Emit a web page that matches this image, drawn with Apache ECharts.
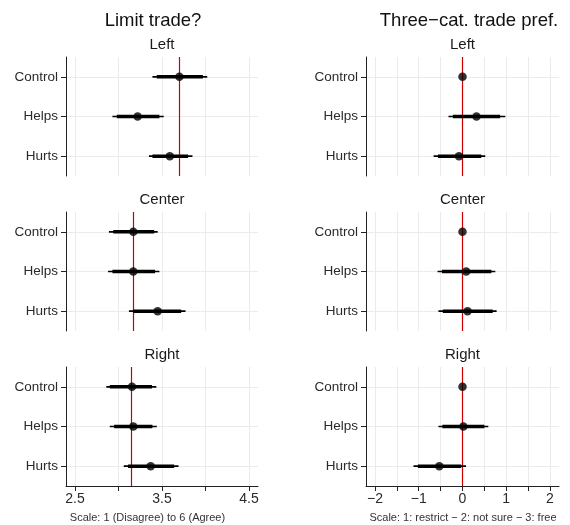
<!DOCTYPE html>
<html>
<head>
<meta charset="utf-8">
<script src="https://cdn.jsdelivr.net/npm/echarts@6/dist/echarts.min.js"></script>
<style>html,body{margin:0;padding:0;background:#fff}#c{width:570px;height:525px}</style>
</head>
<body>
<div id="c"></div>
<script>
// ---- data ----
const categories = ['Control', 'Helps', 'Hurts'];
const panelNames = ['Left', 'Center', 'Right'];
const columnTitles = ['Limit trade?', 'Three\u2212cat. trade pref.'];
const axisTitles = ['Scale: 1 (Disagree) to 6 (Agree)', 'Scale: 1: restrict \u2212 2: not sure \u2212 3: free'];

const limitTicks = [2.5, 3, 3.5, 4, 4.5];
const limitLabels = [2.5, 3.5, 4.5];
const prefTicks = [-2, -1.5, -1, -0.5, 0, 0.5, 1, 1.5, 2];
const prefLabels = [-2, -1, 0, 1, 2];

// rows: [estimate, lo95, hi95, lo90, hi90] for Control, Helps, Hurts
const limitLeft   = [[3.70, 3.39, 4.02, 3.44, 3.97], [3.22, 2.93, 3.52, 2.98, 3.47], [3.59, 3.35, 3.85, 3.39, 3.80]];
const limitCenter = [[3.17, 2.89, 3.45, 2.94, 3.41], [3.17, 2.88, 3.47, 2.93, 3.42], [3.45, 3.12, 3.77, 3.17, 3.72]];
const limitRight  = [[3.155, 2.86, 3.435, 2.90, 3.385], [3.17, 2.90, 3.44, 2.95, 3.39], [3.37, 3.06, 3.69, 3.11, 3.64]];
const prefLeft    = [[0, 0, 0, 0, 0], [0.32, -0.32, 0.98, -0.22, 0.86], [-0.08, -0.66, 0.52, -0.56, 0.43]];
const prefCenter  = [[0, 0, 0, 0, 0], [0.085, -0.57, 0.75, -0.47, 0.66], [0.115, -0.55, 0.78, -0.45, 0.69]];
const prefRight   = [[0, 0, 0, 0, 0], [0.02, -0.55, 0.59, -0.46, 0.50], [-0.53, -1.12, 0.08, -1.02, -0.03]];

// ---- layout ----
const FONT = 'Liberation Sans, Arial, sans-serif';
const colData = [[limitLeft, limitCenter, limitRight], [prefLeft, prefCenter, prefRight]];
const colTicks = [limitTicks, prefTicks];
const colLabels = [limitLabels, prefLabels];
const colRange = [[2.3966, 4.6034], [-2.2057, 2.2057]];
const colLeft = [66, 366];
const colWidth = [192, 193];
const rowTop = [57, 212, 367];
const rowHeight = 119;
const titleCenterX = [153, 469];
const axisTitleX = [147.5, 463];

const grids = [], xAxes = [], yAxes = [], series = [], graphics = [];
const fmt = v => String(v).replace('-', '\u2212');

for (let c = 0; c < 2; c++) {
  graphics.push({type: 'text', x: titleCenterX[c], y: 20.5, style: {text: columnTitles[c], font: '18.5px ' + FONT, fill: '#111', textAlign: 'center', textVerticalAlign: 'middle'}});
  graphics.push({type: 'text', x: axisTitleX[c], y: 518, style: {text: axisTitles[c], font: '11px ' + FONT, fill: '#333', textAlign: 'center', textVerticalAlign: 'middle'}});
  for (let r = 0; r < 3; r++) {
    const gi = grids.length;
    const rows = colData[c][r];
    const bottom = r === 2;
    grids.push({left: colLeft[c], top: rowTop[r], width: colWidth[c], height: rowHeight, containLabel: false});
    graphics.push({type: 'text', x: colLeft[c] + colWidth[c] / 2, y: rowTop[r] - 12.5, style: {text: panelNames[r], font: '15px ' + FONT, fill: '#1a1a1a', textAlign: 'center', textVerticalAlign: 'middle'}});
    xAxes.push({
      gridIndex: gi, type: 'value', min: colRange[c][0], max: colRange[c][1],
      axisLine: {show: bottom, onZero: false, lineStyle: {color: '#222', width: 1}},
      axisTick: {show: bottom, length: 5, customValues: colTicks[c], lineStyle: {color: '#222'}},
      axisLabel: {show: bottom, customValues: colLabels[c], formatter: fmt, fontSize: 14, fontFamily: FONT, color: '#2a2a2a', margin: 6},
      splitLine: {show: true, lineStyle: {color: '#ebebeb', width: 1}}
    });
    yAxes.push({
      gridIndex: gi, type: 'value', min: -0.5, max: 2.5, inverse: true,
      axisLine: {show: true, onZero: false, lineStyle: {color: '#222', width: 1}},
      axisTick: {show: true, length: 5, customValues: [0, 1, 2], lineStyle: {color: '#222'}},
      axisLabel: {customValues: [0, 1, 2], formatter: v => categories[v], fontSize: 13.5, fontFamily: FONT, color: '#2a2a2a', margin: 8},
      splitLine: {show: true, lineStyle: {color: '#ebebeb', width: 1}}
    });
    series.push({
      type: 'custom', xAxisIndex: gi, yAxisIndex: gi, z: 2, silent: true,
      data: rows.map((d, i) => [d[1], d[2], d[3], d[4], i]),
      encode: {x: [0, 1, 2, 3], y: 4},
      renderItem: (params, api) => {
        const y = api.value(4);
        const a = api.coord([api.value(0), y]), b = api.coord([api.value(1), y]);
        const p = api.coord([api.value(2), y]), q = api.coord([api.value(3), y]);
        return {type: 'group', children: [
          {type: 'line', shape: {x1: a[0], y1: a[1], x2: b[0], y2: b[1]}, style: {stroke: '#000', lineWidth: 1.6}},
          {type: 'line', shape: {x1: p[0], y1: p[1], x2: q[0], y2: q[1]}, style: {stroke: '#000', lineWidth: 3.5}}
        ]};
      }
    });
    series.push({
      type: 'scatter', xAxisIndex: gi, yAxisIndex: gi, z: 3, silent: true,
      symbol: 'circle', symbolSize: 8.5, itemStyle: {color: '#000'},
      data: rows.map((d, i) => [d[0], i]),
      markLine: {silent: true, symbol: 'none', z: 1, label: {show: false},
        lineStyle: {color: '#cd0000', width: 1.2, type: 'solid'},
        data: [{xAxis: rows[0][0]}]}
    });
  }
}

const chart = echarts.init(document.getElementById('c'), null, {renderer: 'canvas'});
chart.setOption({animation: false, textStyle: {fontFamily: FONT}, grid: grids, xAxis: xAxes, yAxis: yAxes, series: series, graphic: graphics});
</script>
</body>
</html>
